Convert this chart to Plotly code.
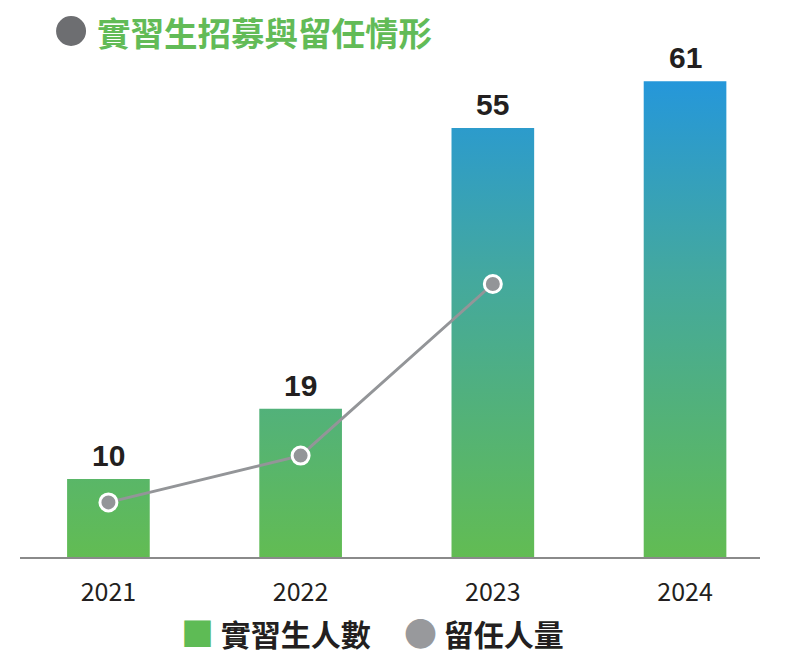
import plotly.graph_objects as go

years = ["2021", "2022", "2023", "2024"]
interns = [10, 19, 55, 61]
retained = [7, 13, 35]

BAR_W = 0.43
CJK = "Noto Sans CJK TC"


def bar_outline(values, width):
    # one closed polygon per bar, split with None so a single trace holds them all
    xs, ys = [], []
    for i, v in enumerate(values):
        l, r = i - width / 2, i + width / 2
        xs += [l, l, r, r, l, None]
        ys += [0, v, v, 0, 0, None]
    return xs, ys


bx, by = bar_outline(interns, BAR_W)

fig = go.Figure()

fig.add_trace(go.Scatter(
    x=bx, y=by,
    mode="lines",
    fill="toself",
    line=dict(width=0, color="rgba(0,0,0,0)"),
    fillgradient=dict(
        type="vertical",
        colorscale=[[0, "#62bc53"], [0.35, "#50b07f"], [0.6, "#43a8a0"], [1, "#2597da"]],
        start=0,
        stop=max(interns),
    ),
    name="實習生人數",
    showlegend=False,
    hoverinfo="skip",
))

fig.add_trace(go.Scatter(
    x=list(range(len(retained))), y=retained,
    mode="lines+markers",
    line=dict(color="#939598", width=3),
    marker=dict(size=17, color="#939598", line=dict(color="white", width=3)),
    name="留任人量",
    showlegend=False,
))

# value labels above the bars
for i, v in enumerate(interns):
    fig.add_annotation(
        x=i, y=v, text=str(v), showarrow=False,
        yanchor="bottom", yshift=5,
        font=dict(family="Liberation Sans", size=30, color="#231f20", weight="bold"),
    )

# legend drawn as text so the keys can be as large as the original
legend_font = dict(family=CJK, size=30, color="#231f20", weight="bold")
fig.add_annotation(
    xref="paper", yref="paper", x=0.215, y=-0.148,
    xanchor="left", yanchor="middle", showarrow=False,
    text='<span style="color:#5ebb55;font-size:33px">■</span> 實習生人數',
    font=legend_font,
)
fig.add_annotation(
    xref="paper", yref="paper", x=0.516, y=-0.148,
    xanchor="left", yanchor="middle", showarrow=False,
    text='<span style="color:#98999c;font-size:33px">●</span> 留任人量',
    font=legend_font,
)

# title: grey bullet (a pixel-sized circle) and green heading above the plot
fig.add_shape(
    type="circle", xref="paper", yref="paper",
    xsizemode="pixel", ysizemode="pixel",
    xanchor=0.069, yanchor=1.0375,
    x0=-15, x1=15, y0=-15, y1=15,
    fillcolor="#6d6e71", line=dict(width=0),
)
fig.add_annotation(
    xref="paper", yref="paper", x=0.101, y=1.0, yshift=19,
    xanchor="left", yanchor="middle", showarrow=False,
    text="實習生招募與留任情形",
    font=dict(family=CJK, size=33.5, color="#62bb57", weight="bold"),
)

# page body has an 8px margin, so the figure is a little smaller than the window
fig.update_layout(
    width=784, height=659,
    margin=dict(l=12, r=32, t=42, b=110),
    paper_bgcolor="white",
    plot_bgcolor="white",
    xaxis=dict(
        range=[-0.46, 3.39],
        tickvals=list(range(len(years))),
        ticktext=years,
        showgrid=False, zeroline=False,
        showline=True, linecolor="#8a8a8a", linewidth=2,
        ticks="", ticklabelstandoff=12,
        tickfont=dict(family=CJK, size=25, color="#231f20"),
    ),
    yaxis=dict(
        range=[0, 65],
        visible=False,
        showgrid=False, zeroline=False,
    ),
)

fig.write_html("out.html")
